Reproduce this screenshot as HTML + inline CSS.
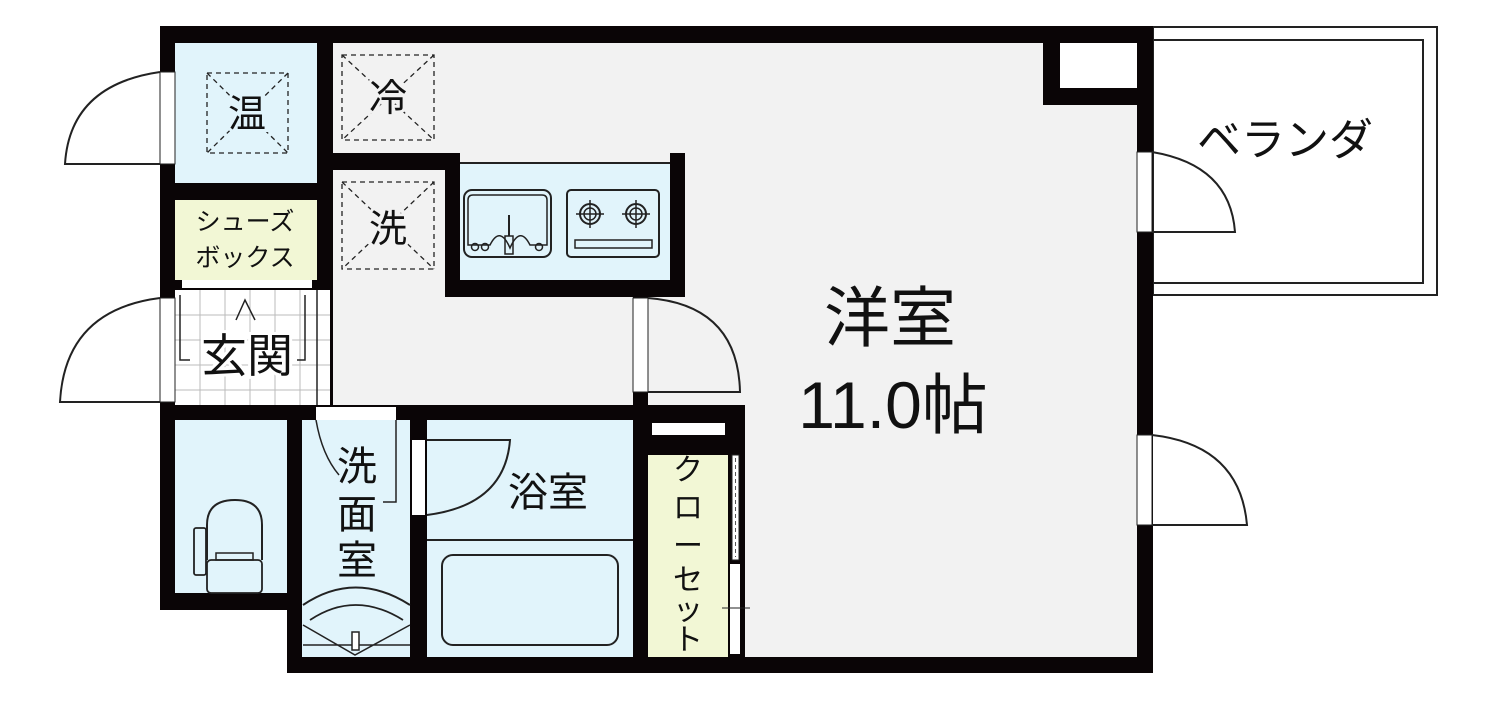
<!DOCTYPE html>
<html><head><meta charset="utf-8"><style>
body{margin:0;background:#fff}
svg{display:block}
text{font-family:"Liberation Sans","Noto Sans CJK JP",sans-serif;fill:#111}
</style></head><body>
<svg width="1495" height="702" viewBox="0 0 1495 702" xmlns="http://www.w3.org/2000/svg">
<!-- veranda -->
<rect x="1153" y="27" width="284" height="268" fill="#fff" stroke="#222" stroke-width="2"/>
<rect x="1153" y="40" width="270" height="243" fill="#fff" stroke="#222" stroke-width="2"/>
<text x="1285" y="155" font-size="44" text-anchor="middle">ベランダ</text>

<path fill="#0a0506" d="M160 26H1153V673H287V610H160Z"/>
<rect x="333" y="43" width="804" height="614" fill="#f2f2f2"/>
<rect x="1043" y="43" width="94" height="62" fill="#0a0506"/>
<rect x="1060" y="43" width="77" height="45" fill="#fff"/>
<rect x="317" y="43" width="16" height="150" fill="#0a0506"/>
<rect x="175" y="43" width="142" height="140" fill="#e1f4fb"/>
<rect x="175" y="183" width="158" height="17" fill="#0a0506"/>
<rect x="175" y="200" width="142" height="80" fill="#f2f7d5"/>
<rect x="175" y="280" width="155" height="10" fill="#0a0506"/>
<rect x="182" y="280" width="130" height="8" fill="#fff"/>
<rect x="175" y="290" width="155" height="115" fill="#fff"/>
<g stroke="#bbb" stroke-width="1">
<line x1="200" y1="290" x2="200" y2="405"/><line x1="225" y1="290" x2="225" y2="405"/><line x1="250" y1="290" x2="250" y2="405"/><line x1="275" y1="290" x2="275" y2="405"/><line x1="300" y1="290" x2="300" y2="405"/>
<line x1="175" y1="315" x2="330" y2="315"/><line x1="175" y1="340" x2="330" y2="340"/><line x1="175" y1="365" x2="330" y2="365"/><line x1="175" y1="390" x2="330" y2="390"/>
</g>
<line x1="317" y1="290" x2="317" y2="405" stroke="#222" stroke-width="1.5"/>
<path d="M180 295V360H190M305 295V360H297M236 320L245 300L255 320" fill="none" stroke="#222" stroke-width="1.5"/>
<!-- kitchen block walls -->
<rect x="333" y="153" width="127" height="17" fill="#0a0506"/>
<rect x="445" y="153" width="15" height="144" fill="#0a0506"/>
<rect x="445" y="280" width="240" height="17" fill="#0a0506"/>
<rect x="670" y="153" width="15" height="144" fill="#0a0506"/>
<rect x="633" y="280" width="15" height="377" fill="#0a0506"/>
<rect x="460" y="163" width="210" height="117" fill="#e1f4fb"/>
<line x1="460" y1="163" x2="670" y2="163" stroke="#222" stroke-width="2"/>
<!-- interior walls lower -->
<rect x="160" y="405" width="585" height="15" fill="#0a0506"/>
<rect x="410" y="405" width="17" height="252" fill="#0a0506"/>
<rect x="728" y="405" width="17" height="252" fill="#0a0506"/>
<rect x="648" y="420" width="80" height="35" fill="#0a0506"/>
<!-- sink -->
<rect x="464" y="190" width="87" height="67" rx="8" fill="none" stroke="#222" stroke-width="2"/>
<path d="M468 245V200Q468 195 473 195H542Q547 195 547 200V245H530Q520 225 510 248Q500 225 490 245Z" fill="none" stroke="#222" stroke-width="1.5"/>
<rect x="505" y="236" width="8" height="18" fill="none" stroke="#222" stroke-width="1.5"/>
<line x1="509" y1="215" x2="509" y2="236" stroke="#222" stroke-width="2"/>
<circle cx="475" cy="247" r="3.5" fill="none" stroke="#222" stroke-width="1.5"/><circle cx="485" cy="247" r="3.5" fill="none" stroke="#222" stroke-width="1.5"/><circle cx="539" cy="247" r="3.5" fill="none" stroke="#222" stroke-width="1.5"/>
<!-- stove -->
<rect x="567" y="190" width="92" height="67" rx="4" fill="none" stroke="#222" stroke-width="2"/>
<circle cx="590" cy="214" r="10" fill="none" stroke="#222" stroke-width="2"/><circle cx="590" cy="214" r="6" fill="none" stroke="#222" stroke-width="1.5"/>
<circle cx="636" cy="214" r="10" fill="none" stroke="#222" stroke-width="2"/><circle cx="636" cy="214" r="6" fill="none" stroke="#222" stroke-width="1.5"/>
<path d="M590 200V228M576 214H604M636 200V228M622 214H650" stroke="#222" stroke-width="1.5"/>
<rect x="575" y="240" width="77" height="8" fill="none" stroke="#222" stroke-width="1.5"/>
<!-- dashed boxes -->
<g fill="none" stroke="#222" stroke-width="1.3" stroke-dasharray="5,4">
<rect x="207" y="73" width="81" height="80"/><path d="M207 73L288 153M288 73L207 153"/>
<rect x="342" y="55" width="92" height="85"/><path d="M342 55L434 140M434 55L342 140"/>
<rect x="342" y="182" width="92" height="87"/><path d="M342 182L434 269M434 182L342 269"/>
</g>
<g font-size="38" text-anchor="middle">
<text x="247" y="127" style="paint-order:stroke" stroke="#e1f4fb" stroke-width="6">温</text>
<text x="388" y="111" style="paint-order:stroke" stroke="#f2f2f2" stroke-width="6">冷</text>
<text x="388" y="242" style="paint-order:stroke" stroke="#f2f2f2" stroke-width="6">洗</text>
</g>
<text x="245" y="230" font-size="25" text-anchor="middle">シューズ</text>
<text x="245" y="266" font-size="25" text-anchor="middle">ボックス</text>
<text x="247" y="372" font-size="46" text-anchor="middle" style="paint-order:stroke" stroke="#fff" stroke-width="6">玄関</text>

<!-- lower rooms -->
<rect x="175" y="420" width="112" height="173" fill="#e1f4fb"/>
<rect x="302" y="420" width="108" height="237" fill="#e1f4fb"/>
<rect x="287" y="498" width="15" height="112" fill="#0a0506"/>
<rect x="427" y="420" width="206" height="237" fill="#e1f4fb"/>
<rect x="648" y="455" width="80" height="202" fill="#f2f7d5"/>
<rect x="652" y="423" width="73" height="12" fill="#fff"/>
<rect x="316" y="407" width="80" height="13" fill="#fff"/>
<path d="M316 420Q322 455 339 475" fill="none" stroke="#222" stroke-width="1.5"/>
<path d="M396 420V502H383" fill="none" stroke="#222" stroke-width="1.5"/>
<rect x="412" y="440" width="13" height="75" fill="#fff"/>
<path d="M427 440H510Q505 505 427 515" fill="none" stroke="#222" stroke-width="2"/>
<line x1="427" y1="540" x2="633" y2="540" stroke="#222" stroke-width="2"/>
<rect x="442" y="555" width="176" height="90" rx="11" fill="none" stroke="#222" stroke-width="2"/>
<!-- toilet -->
<path d="M207 560V525Q207 500 235 500Q262 500 262 525V560" fill="none" stroke="#222" stroke-width="2"/>
<rect x="194" y="528" width="12" height="47" rx="2" fill="none" stroke="#222" stroke-width="1.8"/>
<rect x="207" y="560" width="55" height="33" rx="4" fill="none" stroke="#222" stroke-width="1.8"/>
<rect x="216" y="553" width="37" height="7" fill="none" stroke="#222" stroke-width="1.5"/>
<!-- washbasin -->
<path d="M303 605Q355 570 410 605" fill="none" stroke="#222" stroke-width="2"/>
<path d="M310 620Q355 590 403 620" fill="none" stroke="#222" stroke-width="1.8"/>
<path d="M303 625L355 655L410 625M303 645H410" fill="none" stroke="#222" stroke-width="1.5"/>
<rect x="352" y="632" width="7" height="18" fill="#fff" stroke="#222" stroke-width="1.5"/>
<!-- closet sliding doors -->
<rect x="732" y="455" width="7" height="105" fill="#fff" stroke="#222" stroke-width="1"/>
<line x1="735.5" y1="458" x2="735.5" y2="557" stroke="#555" stroke-dasharray="4,3"/>
<rect x="730" y="564" width="10" height="90" fill="#fff"/>
<line x1="722" y1="608" x2="750" y2="608" stroke="#222" stroke-width="1"/>
<text x="548" y="506" font-size="40" text-anchor="middle">浴室</text>
<g font-size="40" text-anchor="middle">
<text x="357" y="480">洗</text><text x="357" y="528">面</text><text x="357" y="574">室</text>
</g>
<g font-size="30" text-anchor="middle">
<text x="688" y="480">ク</text><text x="688" y="518">ロ</text><text x="688" y="556">ー</text><text x="688" y="590">セ</text><text x="688" y="620">ッ</text><text x="688" y="650">ト</text>
</g>
<!-- door openings -->
<rect x="633" y="298" width="15" height="94" fill="#fff" stroke="#222" stroke-width="1"/>
<path d="M648 298Q738 305 740 392H648" fill="none" stroke="#222" stroke-width="2"/>
<rect x="1137" y="152" width="15" height="80" fill="#fff" stroke="#222" stroke-width="1"/>
<path d="M1152 152Q1230 165 1235 232H1152" fill="none" stroke="#222" stroke-width="2"/>
<rect x="1137" y="435" width="15" height="90" fill="#fff" stroke="#222" stroke-width="1"/>
<path d="M1152 435Q1240 445 1247 525H1152" fill="none" stroke="#222" stroke-width="2"/>
<rect x="160" y="72" width="15" height="92" fill="#fff" stroke="#222" stroke-width="1"/>
<path d="M160 72Q70 85 65 164H160" fill="none" stroke="#222" stroke-width="2"/>
<rect x="160" y="298" width="15" height="104" fill="#fff" stroke="#222" stroke-width="1"/>
<path d="M160 298Q65 310 60 402H160" fill="none" stroke="#222" stroke-width="2"/>
<text x="890" y="341" font-size="66" text-anchor="middle">洋室</text>
<text x="893" y="428" font-size="66" text-anchor="middle">11.0帖</text>
</svg>
</body></html>
